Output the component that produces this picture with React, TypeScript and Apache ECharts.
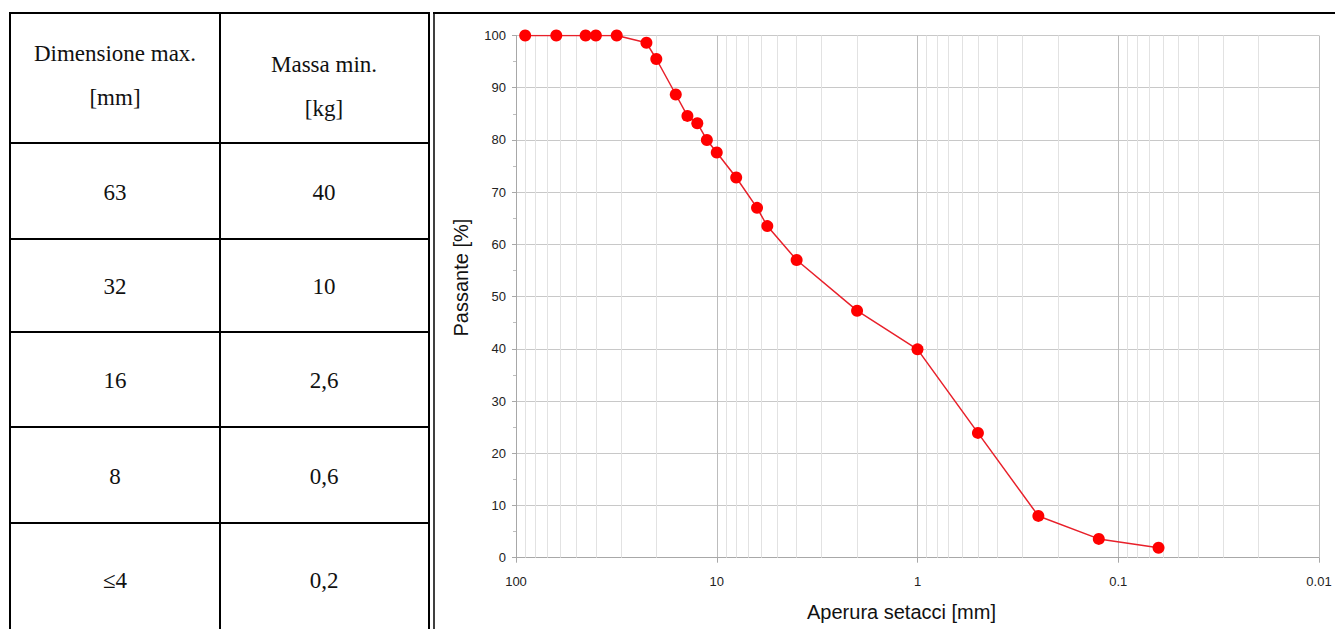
import React, { useEffect, useRef } from "react";
import * as echarts from "echarts";

// ---- Data ----
const sieveSizes = [90, 63, 45, 40, 31.5, 22.4, 20, 16, 14, 12.5, 11.2, 10, 8, 6.3, 5.6, 4, 2, 1, 0.5, 0.25, 0.125, 0.063];
const passingPercent = [100, 100, 100, 100, 100, 98.6, 95.5, 88.7, 84.6, 83.2, 80.0, 77.6, 72.8, 67.0, 63.5, 57.0, 47.3, 39.9, 23.9, 8.0, 3.6, 1.9];
const minorGridValues = [
  90, 80, 70, 60, 50, 40, 30, 20,
  9, 8, 7, 6, 5, 4, 3, 2,
  0.9, 0.8, 0.7, 0.6, 0.5, 0.4, 0.3, 0.2,
  0.09, 0.08, 0.07, 0.06, 0.05, 0.04, 0.03, 0.02,
];
const headerCol1 = ["Dimensione max.", "[mm]"];
const headerCol2 = ["Massa min.", "[kg]"];
const maxDimensions = ["63", "32", "16", "8", "≤4"];
const minMasses = ["40", "10", "2,6", "0,6", "0,2"];

const xAxisTitle = "Aperura setacci [mm]";
const yAxisTitle = "Passante [%]";

export default function App() {
  const ref = useRef<HTMLDivElement>(null);

  useEffect(() => {
    if (!ref.current) return;
    const chart = echarts.init(ref.current, undefined, { renderer: "svg" });

    const serif = "'Liberation Serif', 'Times New Roman', serif";
    const sans = "'Liberation Sans', Arial, sans-serif";

    const tableLine = (x1: number, y1: number, x2: number, y2: number, w = 2) => ({
      type: "line",
      shape: { x1, y1, x2, y2 },
      style: { stroke: "#000", lineWidth: w },
      silent: true,
    });
    const cellText = (text: string, x: number, y: number) => ({
      type: "text",
      x,
      y,
      style: {
        text,
        fontFamily: serif,
        fontSize: 23,
        fill: "#111",
        align: "center",
        verticalAlign: "middle",
      },
      silent: true,
    });

    const rowCenters = [192, 286, 380, 476, 580];
    const col1X = 115;
    const col2X = 324;

    const graphics: any[] = [
      tableLine(10, 13, 429, 13),
      tableLine(10, 12, 10, 629),
      tableLine(429, 12, 429, 629),
      tableLine(220, 13, 220, 629),
      tableLine(10, 143, 429, 143),
      tableLine(10, 239, 429, 239),
      tableLine(10, 332, 429, 332),
      tableLine(10, 427, 429, 427),
      tableLine(10, 523, 429, 523),
      // chart frame
      tableLine(434, 12, 434, 629, 1.5),
      tableLine(433, 13, 1335, 13, 2),
      cellText(headerCol1[0], col1X, 53),
      cellText(headerCol1[1], col1X, 97),
      cellText(headerCol2[0], col2X, 64),
      cellText(headerCol2[1], col2X, 108),
    ];
    maxDimensions.forEach((t, i) => graphics.push(cellText(t, col1X, rowCenters[i])));
    minMasses.forEach((t, i) => graphics.push(cellText(t, col2X, rowCenters[i])));

    chart.setOption({
      animation: false,
      backgroundColor: "#fff",
      grid: { left: 516, right: 16, top: 35.5, bottom: 71.3, containLabel: false },
      xAxis: {
        type: "log",
        logBase: 10,
        inverse: true,
        min: 0.01,
        max: 100,
        name: xAxisTitle,
        nameLocation: "middle",
        nameGap: 44,
        nameTextStyle: { fontFamily: sans, fontSize: 20, color: "#111", padding: [0, 32, 0, 0] },
        axisLine: { show: true, lineStyle: { color: "#a8a8a8", width: 1 } },
        axisTick: { show: true, length: 5, lineStyle: { color: "#a8a8a8" } },
        axisLabel: {
          fontFamily: sans,
          fontSize: 13,
          color: "#222",
          margin: 17,
          formatter: (v: number) => String(+v.toPrecision(6)),
        },
        splitLine: { show: true, lineStyle: { color: "#bdbdbd", width: 1 } },
        minorTick: { show: false },
        minorSplitLine: { show: false },
      },
      yAxis: {
        type: "value",
        min: 0,
        max: 100,
        interval: 10,
        name: yAxisTitle,
        nameLocation: "middle",
        nameGap: 45,
        nameTextStyle: { fontFamily: sans, fontSize: 20, color: "#111", padding: [0, 0, 0, 38] },
        axisLine: { show: true, lineStyle: { color: "#a8a8a8", width: 1 } },
        axisTick: { show: true, length: 4, lineStyle: { color: "#a8a8a8" } },
        minorTick: { show: true, splitNumber: 2, length: 3, lineStyle: { color: "#bdbdbd" } },
        axisLabel: { fontFamily: sans, fontSize: 13, color: "#222", margin: 10 },
        splitLine: { show: true, lineStyle: { color: "#c8c8c8", width: 1 } },
      },
      series: [
        {
          type: "line",
          data: sieveSizes.map((s, i) => [s, passingPercent[i]]),
          symbol: "circle",
          symbolSize: 12,
          showAllSymbol: true,
          lineStyle: { color: "#e8202a", width: 1.5 },
          itemStyle: { color: "#ff0000", borderWidth: 0 },
          z: 5,
          markLine: {
            silent: true,
            symbol: "none",
            label: { show: false },
            lineStyle: { color: "#e2e2e2", width: 1, type: "solid" },
            data: minorGridValues.map((v) => ({ xAxis: v })),
            z: 1,
          },
        },
      ],
      graphic: { elements: graphics },
    });

    return () => chart.dispose();
  }, []);

  return (
    <div
      ref={ref}
      style={{ position: "absolute", left: 0, top: 0, width: 1335, height: 629, background: "#fff" }}
    />
  );
}
